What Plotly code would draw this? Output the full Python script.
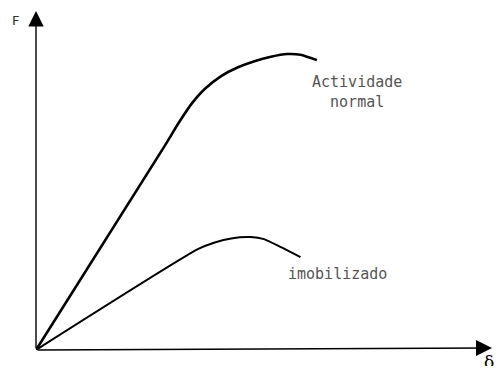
import plotly.graph_objects as go

# Deformation (delta) and force (F) readings, arbitrary 0-100 units
normal_delta = [0, 28.4, 31.2, 34.1, 37.0, 40.6, 44.3, 47.9, 51.5, 55.1, 58.0, 61.6]
normal_force = [0, 60.6, 66.8, 72.6, 77.0, 80.8, 83.4, 85.2, 86.5, 87.3, 87.1, 85.5]

immob_delta = [0, 35.6, 39.2, 42.8, 47.1, 50.0, 53.6, 58.0]
immob_force = [0, 29.8, 31.7, 32.9, 33.3, 32.7, 30.4, 27.4]

label_normal = "Actividade<br>normal"
label_immob = "imobilizado"
y_title = "F"
x_title = "δ"

W, H = 488, 358
L, R, T, B = 28, 4, 3, 16

fig = go.Figure()
fig.add_trace(go.Scatter(x=normal_delta, y=normal_force, mode="lines",
                         line=dict(color="black", width=2.6, shape="spline", smoothing=0.6),
                         showlegend=False, hoverinfo="skip"))
fig.add_trace(go.Scatter(x=immob_delta, y=immob_force, mode="lines",
                         line=dict(color="black", width=2.0, shape="spline", smoothing=0.6),
                         showlegend=False, hoverinfo="skip"))

# axes drawn as arrows
fig.add_annotation(x=0, y=100, ax=0, ay=0, xref="x", yref="y", axref="x", ayref="y",
                   text="", showarrow=True, arrowhead=2, arrowsize=2.2, arrowwidth=1.4,
                   arrowcolor="black", standoff=0, startstandoff=0)
fig.add_annotation(x=100, y=0.6, ax=0, ay=0, xref="x", yref="y", axref="x", ayref="y",
                   text="", showarrow=True, arrowhead=2, arrowsize=2.0, arrowwidth=1.6,
                   arrowcolor="black", standoff=0, startstandoff=0)

def paper(fx, fy):
    # figure pixel -> paper coords
    return (fx - L) / (W - L - R), 1 - (fy - T) / (H - T - B)

px_, py_ = paper(7, 12)
fig.add_annotation(x=px_, y=py_, xref="paper", yref="paper", text=y_title, showarrow=False,
                   xanchor="center", yanchor="middle",
                   font=dict(family="DejaVu Sans", size=13, color="#333"))
px_, py_ = paper(487, 343)
fig.add_annotation(x=px_, y=py_, xref="paper", yref="paper", text=x_title, showarrow=False,
                   xanchor="right", yanchor="top", borderpad=0,
                   font=dict(family="DejaVu Serif", size=17, color="black"))
fig.add_annotation(x=70.5, y=76.0, text=label_normal, showarrow=False, align="center",
                   font=dict(family="DejaVu Sans Mono", size=15, color="#555"))
fig.add_annotation(x=54.8, y=22.3, text=label_immob, showarrow=False, xanchor="left",
                   font=dict(family="DejaVu Sans Mono", size=15, color="#555"))

fig.update_xaxes(range=[0, 100], visible=False)
fig.update_yaxes(range=[0, 100], visible=False)
fig.update_layout(width=W, height=H, margin=dict(l=L, r=R, t=T, b=B),
                  plot_bgcolor="white", paper_bgcolor="white")
fig.write_html("out.html")
